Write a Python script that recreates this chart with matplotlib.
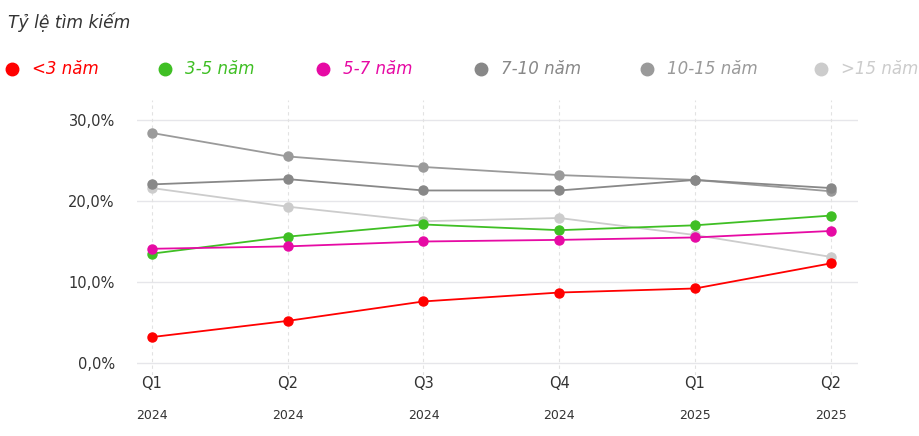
import matplotlib
matplotlib.use("Agg")
import matplotlib.pyplot as plt
from matplotlib.lines import Line2D
from matplotlib.ticker import FuncFormatter
import matplotlib.transforms as mtransforms

quarters = ["Q1", "Q2", "Q3", "Q4", "Q1", "Q2"]
years = ["2024", "2024", "2024", "2024", "2025", "2025"]

series_names = ["<3 năm", "3-5 năm", "5-7 năm", "7-10 năm", "10-15 năm", ">15 năm"]
lt3 = [3.2, 5.2, 7.6, 8.7, 9.2, 12.3]
y3_5 = [13.5, 15.6, 17.1, 16.4, 17.0, 18.2]
y5_7 = [14.1, 14.4, 15.0, 15.2, 15.5, 16.3]
y7_10 = [22.05, 22.7, 21.3, 21.3, 22.6, 21.6]
y10_15 = [28.4, 25.5, 24.2, 23.2, 22.6, 21.2]
gt15 = [21.6, 19.3, 17.5, 17.9, 15.8, 13.1]
series_values = [lt3, y3_5, y5_7, y7_10, y10_15, gt15]
colors = ["#FF0000", "#3FBF24", "#E60AA4", "#888888", "#9A9A9A", "#CCCCCC"]
zorders = [8, 5, 6, 4, 3, 2]
yticks = [0, 10, 20, 30]

FONT = ["DejaVu Sans"]
plt.rcParams["font.family"] = FONT

fig = plt.figure(figsize=(9.2, 4.36), dpi=100)
W, H = 920, 436
top_px, bot_px = 100, 375
ax = fig.add_axes([137 / W, 1 - bot_px / H, (858 - 137) / W, (bot_px - top_px) / H])

x = list(range(len(quarters)))
for vals, c, z in zip(series_values, colors, zorders):
    ax.plot(x, vals, color=c, lw=1.3, marker="o", ms=6.5, mec=c, mfc=c, zorder=z,
            solid_joinstyle="round")

ppu = (363 - 120) / 30.0
ax.set_xlim(-0.11, 5.2)
ax.set_ylim(-(bot_px - 363) / ppu, 30 + (120 - top_px) / ppu)
ax.set_yticks(yticks)
ax.yaxis.set_major_formatter(FuncFormatter(lambda v, p: f"{v:.1f}%".replace(".", ",")))
ax.set_xticks(x)
ax.set_xticklabels(quarters)

for s in ax.spines.values():
    s.set_visible(False)
ax.tick_params(axis="both", length=0, colors="#333333")
ax.tick_params(axis="y", labelsize=10.5, pad=16)
ax.tick_params(axis="x", labelsize=10.5, pad=1)

for yv in yticks:
    ax.axhline(yv, color="#E6E6EA", lw=1.0, zorder=0)
for xv in x:
    ax.axvline(xv, color="#E2E2E2", lw=0.8, ls=(0, (3, 3)), zorder=0)

trans = mtransforms.blended_transform_factory(ax.transData, fig.transFigure)
for xv, yr in zip(x, years):
    ax.text(xv, 1 - 415 / H, yr, transform=trans, ha="center", va="center",
            fontsize=9, color="#333333")

fig.text(8 / W, 1 - 22 / H, "Tỷ lệ tìm kiếm", fontsize=12.3, style="italic",
         color="#333333", ha="left", va="center")

legend_x = [12, 165, 323, 481, 647, 821]
ly = 1 - 69 / H
for lx, name, c in zip(legend_x, series_names, colors):
    fig.add_artist(Line2D([lx / W], [ly], marker="o", ms=9, color=c, mec=c,
                          transform=fig.transFigure, ls="none"))
    fig.text((lx + 20) / W, ly, name, fontsize=12, style="italic", color=c,
             ha="left", va="center")

fig.savefig("out.png", dpi=100, facecolor="white")
